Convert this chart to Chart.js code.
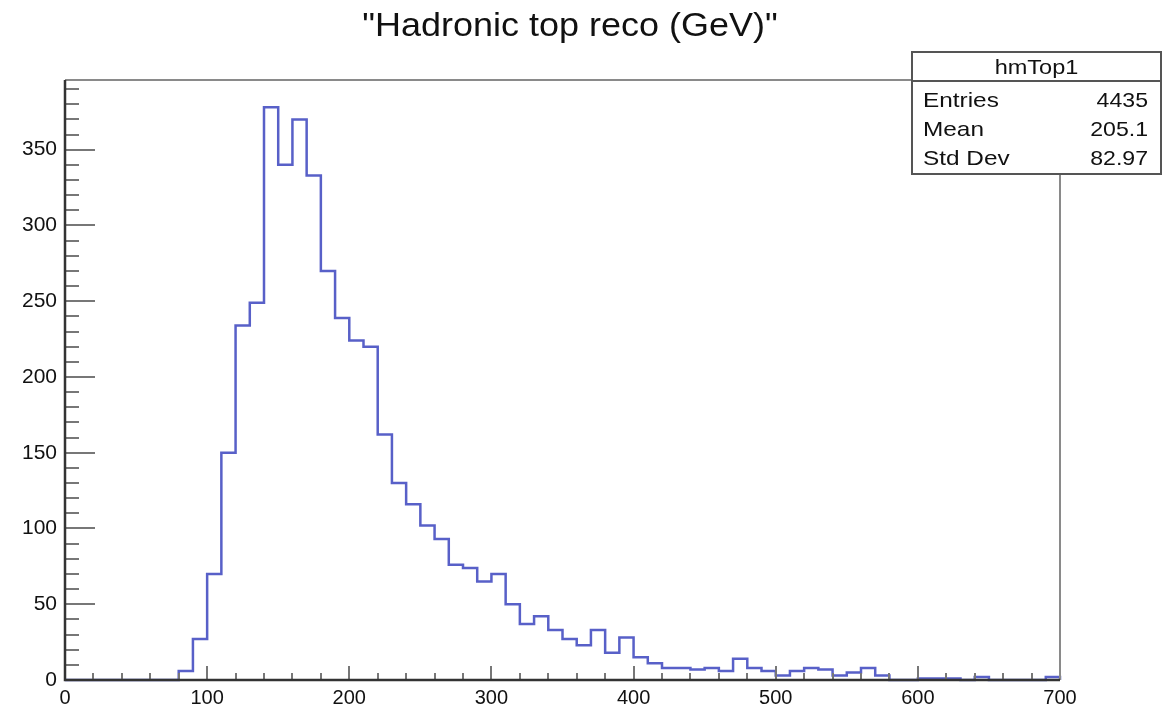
<!DOCTYPE html>
<html>
<head>
<meta charset="utf-8">
<script src="https://cdn.jsdelivr.net/npm/chart.js@4/dist/chart.umd.min.js"></script>
<style>
  html, body { margin: 0; padding: 0; background: #fff; }
  #wrap { width: 1162px; height: 711px; }
</style>
</head>
<body>
<div id="wrap"><canvas id="hmTop1"></canvas></div>
<script>
// histogram: hadronic top mass, 10 GeV bins from 0 to 700
const histTitle = '"Hadronic top reco (GeV)"';
const histName = 'hmTop1';
const binWidth = 10;
const binCounts = [
  0, 0, 0, 0, 0, 0, 0, 0, 6, 27,          // 0 - 100
  70, 150, 234, 249, 378, 340, 370, 333, 270, 239,   // 100 - 200
  224, 220, 162, 130, 116, 102, 93, 76, 74, 65,      // 200 - 300
  70, 50, 37, 42, 33, 27, 23, 33, 18, 28,            // 300 - 400
  15, 11, 8, 8, 7, 8, 6, 14, 8, 6,                   // 400 - 500
  3, 6, 8, 7, 3, 5, 8, 3, 0, 0,                      // 500 - 600
  1, 1, 1, 0, 2, 0, 0, 0, 0, 2                       // 600 - 700
];
const xTicks = [0, 100, 200, 300, 400, 500, 600, 700];
const yTicks = [0, 50, 100, 150, 200, 250, 300, 350];
const statNames = ['Entries', 'Mean', 'Std Dev'];
const statValues = ['4435', '205.1', '82.97'];

// step outline: one point per lower bin edge, closed at the upper edge
const points = binCounts.map((c, i) => ({ x: i * binWidth, y: c }));
points.push({ x: binCounts.length * binWidth, y: binCounts[binCounts.length - 1] });
points.push({ x: binCounts.length * binWidth, y: 0 });

const FONT = '"Liberation Sans", Arial, Helvetica, sans-serif';

// text drawn a little wider than the font, like the ROOT canvas output
function wideText(ctx, text, x, y, align, sx) {
  ctx.save();
  ctx.translate(x, y);
  ctx.scale(sx, 1);
  ctx.textAlign = align;
  ctx.fillText(text, 0, 0);
  ctx.restore();
}

// ROOT-like frame: inward ticks, grey top/right edges, title and stat box
const rootFrame = {
  id: 'rootFrame',
  afterDatasetsDraw(chart) {
    const { ctx, chartArea: a, scales } = chart;
    const xs = scales.x, ys = scales.y;
    ctx.save();
    // top and right frame
    ctx.strokeStyle = '#8a8a8a';
    ctx.lineWidth = 2;
    ctx.beginPath();
    ctx.moveTo(a.left, a.top);
    ctx.lineTo(a.right, a.top);
    ctx.lineTo(a.right, a.bottom);
    ctx.stroke();

    // y ticks every 10, major every 50
    ctx.strokeStyle = '#777';
    ctx.lineWidth = 2;
    ctx.beginPath();
    for (let v = 10; v <= ys.max; v += 10) {
      const y = Math.round(ys.getPixelForValue(v));
      const len = v % 50 === 0 ? 30 : 14;
      ctx.moveTo(a.left, y);
      ctx.lineTo(a.left + len, y);
    }
    // x ticks every 20, major every 100
    for (let v = 20; v < xs.max; v += 20) {
      const x = Math.round(xs.getPixelForValue(v));
      const len = v % 100 === 0 ? 14 : 7;
      ctx.moveTo(x, a.bottom);
      ctx.lineTo(x, a.bottom - len);
    }
    ctx.stroke();

    // axes
    ctx.strokeStyle = '#333';
    ctx.lineWidth = 2.5;
    ctx.beginPath();
    ctx.moveTo(a.left, a.top);
    ctx.lineTo(a.left, a.bottom);
    ctx.lineTo(a.right, a.bottom);
    ctx.stroke();
    ctx.restore();
  },
  afterDraw(chart) {
    const { ctx } = chart;
    ctx.save();
    ctx.fillStyle = '#111';
    ctx.font = '33px ' + FONT;
    ctx.textBaseline = 'middle';
    wideText(ctx, histTitle, 570, 27, 'center', 1.09);

    // statistics box
    const bx = 912, by = 52, bw = 249, bh = 122;
    ctx.fillStyle = '#fff';
    ctx.fillRect(bx, by, bw, bh);
    ctx.strokeStyle = '#555';
    ctx.lineWidth = 2;
    ctx.strokeRect(bx, by, bw, bh);
    ctx.beginPath();
    ctx.moveTo(bx, by + 29);
    ctx.lineTo(bx + bw, by + 29);
    ctx.stroke();

    ctx.fillStyle = '#111';
    ctx.font = '21px ' + FONT;
    wideText(ctx, histName, bx + bw / 2, by + 16, 'center', 1.12);
    statNames.forEach((name, i) => {
      const y = by + 49 + i * 29;
      wideText(ctx, name, bx + 11, y, 'left', 1.16);
      wideText(ctx, statValues[i], bx + bw - 13, y, 'right', 1.1);
    });
    ctx.restore();
  }
};

new Chart(document.getElementById('hmTop1'), {
  type: 'line',
  data: {
    datasets: [{
      label: histName,
      data: points,
      stepped: 'before',
      borderColor: '#5860c8',
      borderWidth: 2.5,
      pointRadius: 0,
      fill: false,
      clip: false
    }]
  },
  options: {
    responsive: true,
    maintainAspectRatio: false,
    animation: false,
    layout: { padding: { top: 80, right: 102, bottom: 0, left: 0 } },
    plugins: {
      legend: { display: false },
      tooltip: { enabled: false },
      title: { display: false }
    },
    scales: {
      x: {
        type: 'linear',
        min: 0,
        max: 700,
        afterFit: s => { s.height = 31; },
        afterBuildTicks: s => { s.ticks = xTicks.map(v => ({ value: v })); },
        grid: { display: false, drawTicks: false },
        border: { display: false },
        ticks: { color: '#111', padding: 6, maxRotation: 0, font: { family: FONT, size: 20 } }
      },
      y: {
        min: 0,
        max: 396,
        afterFit: s => { s.width = 65; },
        afterBuildTicks: s => { s.ticks = yTicks.map(v => ({ value: v })); },
        grid: { display: false, drawTicks: false },
        border: { display: false },
        ticks: { color: '#111', padding: 8, font: { family: FONT, size: 21 } }
      }
    }
  },
  plugins: [rootFrame]
});
</script>
</body>
</html>
